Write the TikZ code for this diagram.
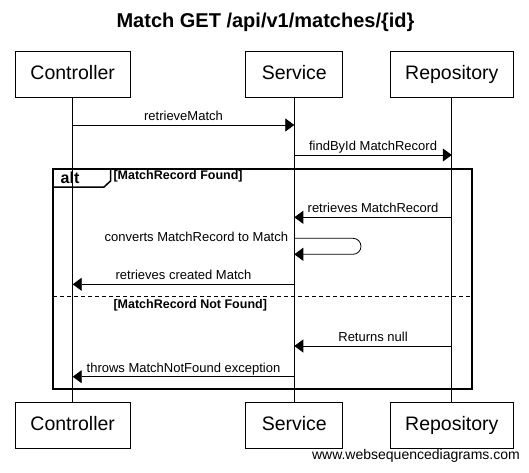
\documentclass[tikz,border=0pt]{standalone}
\usepackage{fontspec}
\setmainfont{Liberation Sans}
\usetikzlibrary{arrows.meta,positioning,calc}

\begin{document}
\begin{tikzpicture}[
    x=1pt, y=-1pt,
    actor/.style={rectangle, draw, line width=0.8pt, minimum height=46pt, inner sep=0pt, text height=14pt, text depth=4pt, font=\fontsize{19.5}{21}\selectfont},
    lifeline/.style={line width=0.8pt},
    msg/.style={-{Triangle[length=9pt,width=13pt]}, line width=0.8pt},
    lbl/.style={font=\fontsize{13}{14}\selectfont, text height=9.5pt, text depth=2.5pt, inner sep=1.5pt},
    cond/.style={font=\bfseries\fontsize{12.5}{13}\selectfont, inner sep=0pt, anchor=west},
    frame/.style={line width=1.5pt}
]
\useasboundingbox (0,0) rectangle (529,472);

% Title
\node[font=\bfseries\fontsize{20}{22}\selectfont] (title) at (265.5,22) {Match GET /api/v1/matches/\{id\}};

% Participants
\node[actor, minimum width=115pt] (ctrl) at (72.7,74) {Controller};
\node[actor, minimum width=97pt] (svc) at (294.3,74) {Service};
\node[actor, minimum width=123.6pt] (repo) at (451.8,74) {Repository};
\node[actor, minimum width=115pt, below=305pt of ctrl] (ctrlB) {Controller};
\node[actor, minimum width=97pt, below=305pt of svc] (svcB) {Service};
\node[actor, minimum width=123.6pt, below=305pt of repo] (repoB) {Repository};

% Lifelines
\draw[lifeline] (ctrl) -- (ctrlB);
\draw[lifeline] (svc) -- (svcB);
\draw[lifeline] (repo) -- (repoB);

% Message rows
\coordinate (m1) at (0,125);
\coordinate (m2) at (0,155);
\coordinate (m3) at (0,217.3);
\coordinate (m4) at (0,238.3);
\coordinate (m4b) at (0,254.3);
\coordinate (m5) at (0,284.3);
\coordinate (m6) at (0,346);
\coordinate (m7) at (0,376.7);

% alt fragment
\draw[frame] (53,169) rectangle (472,389);
\draw[frame] (53,187) -- (104,187) -- (110.5,181) -- (110.5,169);
\node[font=\bfseries\fontsize{16}{17}\selectfont, inner sep=0pt, anchor=west] (alt) at (60.5,178) {alt};
\node[cond] (found) at (113.3,176) {[MatchRecord Found]};
\draw[frame, dash pattern=on 4pt off 3pt] (53,296.7) -- (472,296.7);
\node[cond] (notfound) at (113.3,305) {[MatchRecord Not Found]};

% Messages
\draw[msg] (ctrl |- m1) -- node[lbl, above] {retrieveMatch} (svc |- m1);
\draw[msg] (svc |- m2) -- node[lbl, above] {findById MatchRecord} (repo |- m2);
\draw[msg] (repo |- m3) -- node[lbl, above] {retrieves MatchRecord} (svc |- m3);
\draw[msg, rounded corners=8pt] (svc |- m4) -- ++(66.7,0) |- (svc |- m4b);
\node[lbl, anchor=east, xshift=-4.5pt] (conv) at (svc |- m4) {converts MatchRecord to Match};
\draw[msg] (svc |- m5) -- node[lbl, above] {retrieves created Match} (ctrl |- m5);
\draw[msg] (repo |- m6) -- node[lbl, above] {Returns null} (svc |- m6);
\draw[msg] (svc |- m7) -- node[lbl, above] {throws MatchNotFound exception} (ctrl |- m7);

% Watermark
\node[font=\fontsize{14}{15}\selectfont, anchor=east, inner sep=0pt] (wsd) at (520,456) {www.websequencediagrams.com};

\end{tikzpicture}
\end{document}
